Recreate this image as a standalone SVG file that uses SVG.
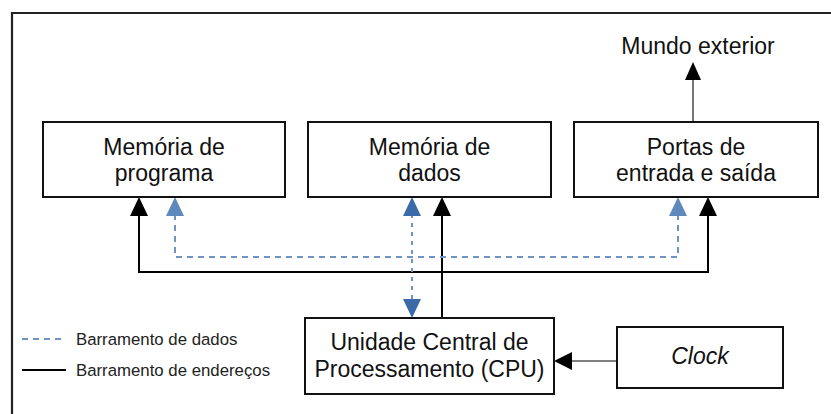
<svg xmlns="http://www.w3.org/2000/svg" width="831" height="414" viewBox="0 0 831 414">
  <style>
    .box { fill: #ffffff; stroke: #111111; stroke-width: 2; }
    .lbl { font-family: "Liberation Sans", Arial, sans-serif; font-size: 23px; fill: #111111; text-anchor: middle; }
    .leg { font-family: "Liberation Sans", Arial, sans-serif; font-size: 16.8px; fill: #222222; }
    .addr { fill: none; stroke: #000000; stroke-width: 2; }
    .data { fill: none; stroke: #6f94c4; stroke-width: 2; stroke-dasharray: 6 5; }
    .datav { fill: none; stroke: #6f94c4; stroke-width: 2; stroke-dasharray: 4 5; }
    .thin { fill: none; stroke: #555555; stroke-width: 1.6; }
  </style>

  <!-- outer frame, running past the right and bottom edges -->
  <path d="M12 420 V13 H840" fill="none" stroke="#222222" stroke-width="2.2"/>

  <!-- buses and signal lines -->
  <g id="connectors">
    <!-- address bus (solid) -->
    <path class="addr" d="M442 318 V214"/>
    <path class="addr" d="M139 214 V272 H708 V214"/>
    <polygon points="442,197 433,216 451,216" fill="#000"/>
    <polygon points="139,197 130,216 148,216" fill="#000"/>
    <polygon points="708,197 699,216 717,216" fill="#000"/>

    <!-- data bus (dashed) -->
    <path class="data" d="M175 214 V257 H678 V214"/>
    <path class="datav" d="M412 214 V302"/>
    <polygon points="175,197 166,216 184,216" fill="#5d89bd"/>
    <polygon points="678,197 669,216 687,216" fill="#5d89bd"/>
    <polygon points="412,197 403,216 421,216" fill="#3b6aa8"/>
    <polygon points="412,318 403,299 421,299" fill="#3b6aa8"/>

    <!-- ports to outside world -->
    <path class="thin" d="M693 121 V78"/>
    <polygon points="693,62 685,80 701,80" fill="#000"/>

    <!-- clock into CPU -->
    <path class="thin" d="M617 361 H570"/>
    <polygon points="554,361 572,352 572,370" fill="#000"/>
  </g>

  <g id="mem-programa">
    <rect class="box" x="43" y="122" width="242" height="75"/>
    <text class="lbl" x="164" y="155">Memória de</text>
    <text class="lbl" x="164" y="181">programa</text>
  </g>

  <g id="mem-dados">
    <rect class="box" x="308" y="122" width="243" height="75"/>
    <text class="lbl" x="429.5" y="155">Memória de</text>
    <text class="lbl" x="429.5" y="181">dados</text>
  </g>

  <g id="portas">
    <rect class="box" x="574" y="122" width="244" height="75"/>
    <text class="lbl" x="696" y="155">Portas de</text>
    <text class="lbl" x="696" y="181">entrada e saída</text>
  </g>

  <g id="mundo">
    <text class="lbl" x="698" y="54" font-size="23.5">Mundo exterior</text>
  </g>

  <g id="cpu">
    <rect class="box" x="305" y="318" width="249" height="76"/>
    <text class="lbl" x="429.5" y="350">Unidade Central de</text>
    <text class="lbl" x="429.5" y="377">Processamento (CPU)</text>
  </g>

  <g id="clock">
    <rect class="box" x="617" y="327" width="166" height="61"/>
    <text class="lbl" x="700" y="364" font-style="italic">Clock</text>
  </g>

  <g id="legenda">
    <line x1="22" y1="339" x2="66" y2="339" stroke="#6f94c4" stroke-width="2" stroke-dasharray="6 5"/>
    <text class="leg" x="76" y="345">Barramento de dados</text>
    <line x1="22" y1="370" x2="66" y2="370" stroke="#000" stroke-width="2"/>
    <text class="leg" x="76" y="376">Barramento de endereços</text>
  </g>
</svg>
